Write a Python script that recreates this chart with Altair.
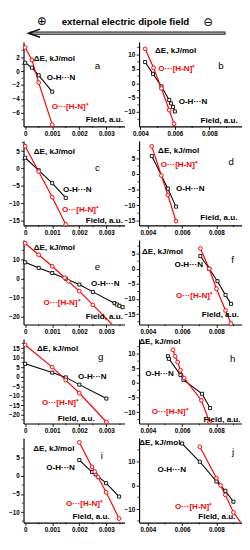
import altair as alt
import pandas as pd

# ---------------- data: field (a.u.) vs ΔE (kJ/mol) ----------------
a_field_ohn = [0.0, 0.00025, 0.0005, 0.001]
a_de_ohn = [1.2, 0.5, -0.6, -2.95]
a_field_hn = [0.0, 0.00025, 0.0005, 0.001]
a_de_hn = [3.4, 1.6, -1.65, -7.7]

b_field_ohn = [0.00427, 0.00473, 0.00522, 0.00567, 0.00578, 0.00589, 0.006]
b_de_ohn = [7.4, 3.3, -1.1, -5.8, -7.0, -8.2, -9.8]
b_field_hn = [0.00427, 0.00476, 0.00522, 0.00567, 0.00595]
b_de_hn = [12.0, 5.4, -1.8, -9.3, -14.1]

c_field_ohn = [0.0, 0.0005, 0.001, 0.0015]
c_de_ohn = [3.1, -0.5, -4.2, -8.4]
c_field_hn = [0.0, 0.0005, 0.001, 0.0015]
c_de_hn = [6.4, -0.85, -8.2, -16.0]

d_field_ohn = [0.00423, 0.00517, 0.00564]
d_de_ohn = [5.7, -4.7, -10.4]
d_field_hn = [0.00423, 0.00479, 0.00517, 0.00564]
d_de_hn = [8.8, -0.5, -6.7, -15.0]

e_field_ohn = [0.0, 0.0005, 0.001, 0.0015, 0.002, 0.0025, 0.0033, 0.00339, 0.00348, 0.0036]
e_de_ohn = [8.7, 5.7, 3.0, 0.0, -3.1, -7.0, -13.0, -13.7, -14.4, -15.1]
e_field_hn = [0.0, 0.0005, 0.001, 0.00146, 0.0016, 0.002, 0.0025, 0.0035]
e_de_hn = [18.8, 12.7, 6.6, 0.5, -1.4, -6.6, -13.9, -28.5]

f_field_ohn = [0.00706, 0.00758, 0.00806, 0.00853, 0.00885]
f_de_ohn = [4.2, 0.0, -4.1, -8.7, -11.6]
f_field_hn = [0.00706, 0.00758, 0.008, 0.00853, 0.00885]
f_de_hn = [6.7, 0.0, -6.6, -13.8, -18.1]

g_field_ohn = [0.0, 0.001, 0.0015, 0.002, 0.003]
g_de_ohn = [6.8, 2.2, -0.3, -4.1, -11.4]
g_field_hn = [0.0, 0.001, 0.0015, 0.002, 0.003]
g_de_hn = [16.7, 5.1, -1.7, -8.5, -23.7]

h_field_ohn = [0.00517, 0.00523, 0.0059, 0.00608, 0.00716, 0.00763]
h_de_ohn = [9.2, 8.3, 2.8, 1.1, -3.7, -8.6]
h_field_hn = [0.00546, 0.00559, 0.00574, 0.0059, 0.00612, 0.00712, 0.00759]
h_de_hn = [11.4, 9.2, 7.2, 4.4, 1.7, -5.9, -13.3]

i_field_ohn = [0.002, 0.00247, 0.0026, 0.00299, 0.00347]
i_de_ohn = [4.4, 1.1, 0.45, -2.0, -5.7]
i_field_hn = [0.002, 0.00247, 0.00257, 0.00269, 0.00299, 0.00347]
i_de_hn = [9.3, 2.5, 1.2, -0.3, -4.5, -11.8]

j_field_ohn = [0.006, 0.00703, 0.008, 0.00852, 0.00899]
j_de_ohn = [17.7, 10.0, 1.7, -2.3, -6.9]
j_field_hn = [0.00703, 0.008, 0.00824, 0.00852, 0.00899, 0.0096]
j_de_hn = [16.3, 3.1, 0.0, -4.0, -11.4, -17.5]

# ---------------- tick labels ----------------
x_ticks_left = [0.0, 0.001, 0.002, 0.003]
x_ticks_right = [0.004, 0.006, 0.008]
a_yticks = [-6, -4, -2, 0, 2]
b_yticks = [-10, -5, 0, 5, 10]
c_yticks = [-15, -10, -5, 0, 5]
d_yticks = [-15, -10, -5, 0, 5]
e_yticks = [-20, -10, 0, 10]
f_yticks = [-15, -10, -5, 0, 5]
g_yticks = [-20, -15, -10, -5, 0, 5, 10, 15]
h_yticks = [-10, -5, 0, 5, 10]
i_yticks = [-10, -5, 0, 5]
j_yticks = [-10, 0, 10]

# ---------------- texts ----------------
HEADER_TEXT = "external electric dipole field"
LBL_DE = "ΔE, kJ/mol"
LBL_OHN = "O-H···N"
LBL_HN = "O···[H-N]⁺"
LBL_FIELD = "Field, a.u."

# ---------------- layout / style ----------------
FONT = "Liberation Sans"
RED = "#ff0000"
W_L, W_R, H = 104, 106, 87
LEFT_XDOM = [-0.00006, 0.00367]
RIGHT_XDOM = [0.00349, 0.00949]
B_XDOM = [0.00392, 0.0099]

# annotation anchors in data units: (x_left, y_mid)
LABEL_POS = {
    "a": dict(de=(0.00032, 1.8), letter=(0.00267, 0.7), ohn=(0.0008, -0.95), hn=(0.00098, -5.1), field=(0.00224, -7.1)),
    "b": dict(de=(0.00485, 11.4), letter=(0.00867, 5.9), ohn=(0.00622, -6.6), hn=(0.00504, 5.1), field=(0.00749, -13.1)),
    "c": dict(de=(0.00032, 4.7), letter=(0.00267, 0.0), ohn=(0.0014, -6.1), hn=(0.00136, -11.9), field=(0.00224, -15.0)),
    "d": dict(de=(0.0046, 7.3), letter=(0.00886, 3.9), ohn=(0.00564, -4.9), hn=(0.00476, 2.9), field=(0.00706, -14.0)),
    "e": dict(de=(0.00032, 16.5), letter=(0.00267, 6.1), ohn=(0.00243, -3.1), hn=(0.00068, -12.7), field=(0.00224, -20.5)),
    "f": dict(de=(0.00366, 5.6), letter=(0.00894, 2.9), ohn=(0.00555, 1.3), hn=(0.00564, -8.9), field=(0.00715, -15.4)),
    "g": dict(de=(0.00044, 14.7), letter=(0.00279, 10.2), ohn=(0.00195, -0.3), hn=(0.00062, -14.0), field=(0.0012, -22.1)),
    "h": dict(de=(0.0035, 14.1), letter=(0.00894, 8.1), ohn=(0.00385, 3.0), hn=(0.00423, -10.0), field=(0.00724, -12.6)),
    "i": dict(de=(0.0003, 7.5), letter=(0.00283, 5.5), ohn=(0.00078, 2.3), hn=(0.00151, -7.7), field=(0.00175, -11.4)),
    "j": dict(de=(0.0035, 18.1), letter=(0.00897, 13.9), ohn=(0.00456, 6.7), hn=(0.00559, -9.0), field=(0.00694, -13.3)),
}

PANELS = {
    "a": dict(w=W_L, xdom=LEFT_XDOM, xmaj=x_ticks_left, ydom=[-7.95, 4.2], ymaj=a_yticks,
              fo=a_field_ohn, do=a_de_ohn, fh=a_field_hn, dh=a_de_hn),
    "b": dict(w=W_R, xdom=B_XDOM, xmaj=x_ticks_right, ydom=[-15.0, 14.4], ymaj=b_yticks,
              fo=b_field_ohn, do=b_de_ohn, fh=b_field_hn, dh=b_de_hn),
    "c": dict(w=W_L, xdom=LEFT_XDOM, xmaj=x_ticks_left, ydom=[-16.3, 7.9], ymaj=c_yticks,
              fo=c_field_ohn, do=c_de_ohn, fh=c_field_hn, dh=c_de_hn),
    "d": dict(w=W_R, xdom=RIGHT_XDOM, xmaj=x_ticks_right, ydom=[-16.4, 10.5], ymaj=d_yticks,
              fo=d_field_ohn, do=d_de_ohn, fh=d_field_hn, dh=d_de_hn),
    "e": dict(w=W_L, xdom=LEFT_XDOM, xmaj=x_ticks_left, ydom=[-24.3, 20.5], ymaj=e_yticks,
              fo=e_field_ohn, do=e_de_ohn, fh=e_field_hn, dh=e_de_hn),
    "f": dict(w=W_R, xdom=RIGHT_XDOM, xmaj=x_ticks_right, ydom=[-18.4, 9.5], ymaj=f_yticks,
              fo=f_field_ohn, do=f_de_ohn, fh=f_field_hn, dh=f_de_hn),
    "g": dict(w=W_L, xdom=LEFT_XDOM, xmaj=x_ticks_left, ydom=[-24.5, 19.8], ymaj=g_yticks,
              fo=g_field_ohn, do=g_de_ohn, fh=g_field_hn, dh=g_de_hn),
    "h": dict(w=W_R, xdom=RIGHT_XDOM, xmaj=x_ticks_right, ydom=[-13.9, 15.1], ymaj=h_yticks,
              fo=h_field_ohn, do=h_de_ohn, fh=h_field_hn, dh=h_de_hn),
    "i": dict(w=W_L, xdom=LEFT_XDOM, xmaj=x_ticks_left, ydom=[-12.9, 10.5], ymaj=i_yticks,
              fo=i_field_ohn, do=i_de_ohn, fh=i_field_hn, dh=i_de_hn),
    "j": dict(w=W_R, xdom=RIGHT_XDOM, xmaj=x_ticks_right, ydom=[-15.7, 20.0], ymaj=j_yticks,
              fo=j_field_ohn, do=j_de_ohn, fh=j_field_hn, dh=j_de_hn),
}


def minor_ticks(majors, lo, hi):
    step = majors[1] - majors[0]
    cands = [majors[0] - step / 2] + [m + step / 2 for m in majors]
    return [c for c in cands if lo <= c <= hi]


def make_axis(majors):
    return alt.Axis(
        values=[float(v) for v in majors],
        labelExpr="format(datum.value, '~g')",
        tickSize=3,
        title=None, grid=False,
        domainColor="black", domainWidth=1.2,
        tickColor="black", tickWidth=0.9,
        labelFont=FONT, labelFontSize=6.5, labelFontWeight="bold", labelColor="black",
        labelPadding=1.5, labelFlush=False, labelOverlap=False,
    )


def header_layers():
    one = alt.Chart(pd.DataFrame({"k": [0]}))
    txt = one.mark_text(text=HEADER_TEXT, font=FONT, fontSize=10, fontWeight="bold",
                        align="center", baseline="middle", color="black").encode(
        x=alt.value(105), y=alt.value(-20))
    plus = one.mark_text(text="⊕", font="DejaVu Sans", fontSize=12, align="center",
                         baseline="middle", color="black").encode(x=alt.value(19), y=alt.value(-21))
    minus = one.mark_text(text="⊖", font="DejaVu Sans", fontSize=12, align="center",
                          baseline="middle", color="black").encode(x=alt.value(190), y=alt.value(-20))
    shaft_o = one.mark_rule(color="#222222", strokeWidth=3.4).encode(
        x=alt.value(7), x2=alt.value(208), y=alt.value(-9))
    shaft_i = one.mark_rule(color="#b8b8b8", strokeWidth=1.3).encode(
        x=alt.value(9), x2=alt.value(207), y=alt.value(-9))
    head = one.mark_point(shape="M 1 -0.7 L -1 0 L 1 0.7", filled=False, color="#111111",
                          strokeWidth=1.5, size=144, opacity=1).encode(
        x=alt.value(11), y=alt.value(-9))
    return [shaft_o, shaft_i, head, txt, plus, minus]


def panel(key):
    cfg = PANELS[key]
    x0, x1 = cfg["xdom"]
    y0, y1 = cfg["ydom"]
    xs = alt.Scale(domain=cfg["xdom"], nice=False, zero=False)
    ys = alt.Scale(domain=cfg["ydom"], nice=False, zero=False)
    # every layer carries the same axis definition so the axes merge and stay visible
    X = alt.X("field:Q", scale=xs, axis=make_axis(cfg["xmaj"]))
    Y = alt.Y("dE:Q", scale=ys, axis=make_axis(cfg["ymaj"]))
    ohn = pd.DataFrame({"field": cfg["fo"], "dE": cfg["do"]})
    hn = pd.DataFrame({"field": cfg["fh"], "dE": cfg["dh"]})

    def inside(df):
        return df[(df.field >= x0) & (df.field <= x1) & (df.dE >= y0) & (df.dE <= y1)]

    l1 = alt.Chart(ohn).mark_line(color="black", strokeWidth=1.1, clip=True).encode(x=X, y=Y)
    l2 = alt.Chart(hn).mark_line(color=RED, strokeWidth=1.2, clip=True).encode(x=X, y=Y)
    p1 = alt.Chart(inside(ohn)).mark_point(shape="square", filled=True, fill="white", stroke="black",
                                           strokeWidth=0.9, size=10, opacity=1).encode(x=X, y=Y)
    p2 = alt.Chart(inside(hn)).mark_point(shape="circle", filled=True, fill="white", stroke=RED,
                                          strokeWidth=1, size=15, opacity=1).encode(x=X, y=Y)

    # minor ticks (between the labelled ones), drawn just outside the axis lines
    mx = alt.Chart(pd.DataFrame({"field": minor_ticks(cfg["xmaj"], x0, x1)})).mark_rule(
        color="black", strokeWidth=0.8).encode(x=X, y=alt.value(H), y2=alt.value(H + 1.8))
    my = alt.Chart(pd.DataFrame({"dE": minor_ticks(cfg["ymaj"], y0, y1)})).mark_rule(
        color="black", strokeWidth=0.8).encode(y=Y, x=alt.value(0), x2=alt.value(-1.8))

    pos = LABEL_POS[key]
    tdf = pd.DataFrame({
        "field": [pos["de"][0], pos["ohn"][0], pos["hn"][0], pos["field"][0]],
        "dE": [pos["de"][1], pos["ohn"][1], pos["hn"][1], pos["field"][1]],
        "txt": [LBL_DE, LBL_OHN, LBL_HN, LBL_FIELD],
        "col": ["black", "black", RED, "black"],
    })
    t1 = alt.Chart(tdf).mark_text(align="left", baseline="middle", font=FONT, fontSize=8.3,
                                  fontWeight="bold").encode(
        x=X, y=Y, text="txt:N", color=alt.Color("col:N", scale=None))
    ldf = pd.DataFrame({"field": [pos["letter"][0]], "dE": [pos["letter"][1]], "txt": [key]})
    t2 = alt.Chart(ldf).mark_text(align="center", baseline="middle", font=FONT, fontSize=10,
                                  color="black").encode(x=X, y=Y, text="txt:N")
    layers = [l1, l2, p1, p2, mx, my, t1, t2]
    if key == "a":
        layers += header_layers()
    return alt.layer(*layers).properties(width=cfg["w"], height=H)


cells = [panel(k) for k in "abcdefghij"]
chart = alt.concat(*cells, columns=2, bounds="flush",
                   spacing={"row": 15, "column": 15}).properties(
    padding={"top": 0, "left": 0, "right": 0, "bottom": -1}).configure_view(stroke=None)

chart.save("out.html", embed_options={"renderer": "svg", "actions": False})
